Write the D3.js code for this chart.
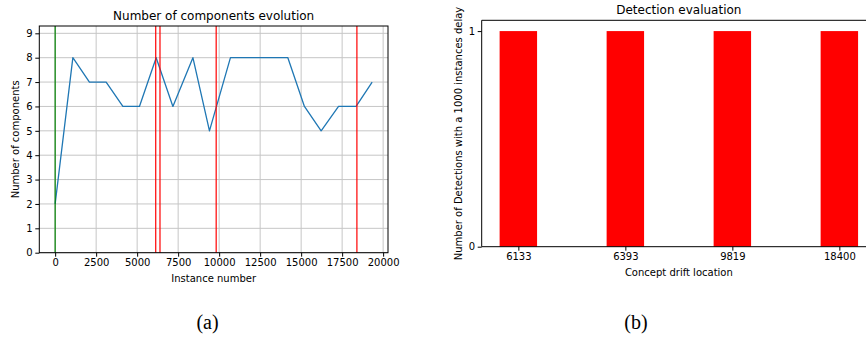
<!DOCTYPE html>
<html>
<head>
<meta charset="utf-8">
<script src="https://cdn.jsdelivr.net/npm/d3@7"></script>
<style>
  body { margin: 0; background: #fff; }
  svg { display: block; }
  text { font-family: "DejaVu Sans", sans-serif; fill: #000; }
  text.caption { font-family: "Liberation Serif", "DejaVu Serif", serif; }
</style>
</head>
<body>
<svg id="fig" width="866" height="337"></svg>
<script>
// Panel (a): number of mixture components over the stream
const instances  = [0, 1080, 2090, 3110, 4130, 5140, 6160, 7180, 8400, 9410, 10690, 11860, 13020, 14190, 15200, 16220, 17280, 18350, 19330];
const components = [2, 8, 7, 7, 6, 6, 8, 6, 8, 5, 8, 8, 8, 8, 6, 5, 6, 6, 7];
const startMarks = [0];
const driftLocations = [6133, 6393, 9819, 18400];
const xTicksA = [0, 2500, 5000, 7500, 10000, 12500, 15000, 17500, 20000];
const yTicksA = [0, 1, 2, 3, 4, 5, 6, 7, 8, 9];

// Panel (b): detections within a 1000-instance delay
const driftLabels = ["6133", "6393", "9819", "18400"];
const detections = [1, 1, 1, 1];
const yTicksB = [0, 1];

const svg = d3.select("#fig");

// ---------- Panel (a) ----------
{
  const L = 39.3, R = 388, T = 26, B = 252.7;
  const xMin = d3.min(instances), xMax = d3.max(instances);
  const pad = (xMax - xMin) * 0.05;
  const x = d3.scaleLinear().domain([xMin - pad, xMax + pad]).range([L, R]);
  const y = d3.scaleLinear().domain([0, 9.3]).range([B, T]);
  const g = svg.append("g");

  // grid
  g.append("g").selectAll("line").data(xTicksA).join("line")
    .attr("x1", d => x(d)).attr("x2", d => x(d)).attr("y1", T).attr("y2", B)
    .attr("stroke", "#c6c6c6").attr("stroke-width", 1);
  g.append("g").selectAll("line").data(yTicksA).join("line")
    .attr("x1", L).attr("x2", R).attr("y1", d => y(d)).attr("y2", d => y(d))
    .attr("stroke", "#c6c6c6").attr("stroke-width", 1);

  // component count line
  g.append("path").datum(instances.map((v, i) => [v, components[i]]))
    .attr("fill", "none").attr("stroke", "#1f77b4").attr("stroke-width", 1.3)
    .attr("stroke-linejoin", "round")
    .attr("d", d3.line().x(d => x(d[0])).y(d => y(d[1])));

  // start marker and drift markers
  g.append("g").selectAll("line").data(startMarks).join("line")
    .attr("x1", d => x(d)).attr("x2", d => x(d)).attr("y1", T).attr("y2", B)
    .attr("stroke", "#008000").attr("stroke-width", 1.2);
  g.append("g").selectAll("line").data(driftLocations).join("line")
    .attr("x1", d => x(d)).attr("x2", d => x(d)).attr("y1", T).attr("y2", B)
    .attr("stroke", "#ff0000").attr("stroke-width", 1.2);

  // axes
  const ax = g.append("g").attr("transform", `translate(0,${B})`)
    .call(d3.axisBottom(x).tickValues(xTicksA).tickFormat(d3.format("d")).tickSize(4).tickSizeOuter(0).tickPadding(2.5));
  const ay = g.append("g").attr("transform", `translate(${L},0)`)
    .call(d3.axisLeft(y).tickValues(yTicksA).tickFormat(d3.format("d")).tickSize(4).tickSizeOuter(0).tickPadding(2.7));
  [ax, ay].forEach(a => {
    a.select(".domain").remove();
    a.selectAll("text").attr("font-size", 10).attr("font-family", "DejaVu Sans");
    a.selectAll("line").attr("stroke", "#000").attr("stroke-width", 1);
  });

  // frame
  g.append("rect").attr("x", L).attr("y", T).attr("width", R - L).attr("height", B - T)
    .attr("fill", "none").attr("stroke", "#000").attr("stroke-width", 1);

  g.append("text").attr("x", (L + R) / 2).attr("y", 20).attr("text-anchor", "middle")
    .attr("font-size", 12).text("Number of components evolution");
  g.append("text").attr("x", (L + R) / 2).attr("y", 282).attr("text-anchor", "middle")
    .attr("font-size", 10).text("Instance number");
  g.append("text").attr("transform", `translate(18.5,${(T + B) / 2}) rotate(-90)`)
    .attr("text-anchor", "middle").attr("font-size", 10).text("Number of components");
}

// ---------- Panel (b) ----------
{
  const L = 481.7, R = 876, T = 20.3, B = 246.7;
  const barW = 0.35;
  const n = driftLabels.length;
  const lo = -barW / 2, hi = n - 1 + barW / 2;
  const pad = (hi - lo) * 0.05;
  const x = d3.scaleLinear().domain([lo - pad, hi + pad]).range([L, R]);
  const y = d3.scaleLinear().domain([0, 1.05]).range([B, T]);
  const g = svg.append("g");

  g.append("g").selectAll("rect").data(detections).join("rect")
    .attr("x", (d, i) => x(i - barW / 2)).attr("width", (d, i) => x(i + barW / 2) - x(i - barW / 2))
    .attr("y", d => y(d)).attr("height", d => y(0) - y(d))
    .attr("fill", "#ff0000");

  const ax = g.append("g").attr("transform", `translate(0,${B})`)
    .call(d3.axisBottom(x).tickValues(d3.range(n)).tickFormat(i => driftLabels[i]).tickSize(4).tickSizeOuter(0).tickPadding(2.5));
  const ay = g.append("g").attr("transform", `translate(${L},0)`)
    .call(d3.axisLeft(y).tickValues(yTicksB).tickFormat(d3.format("d")).tickSize(4).tickSizeOuter(0).tickPadding(2.7));
  [ax, ay].forEach(a => {
    a.select(".domain").remove();
    a.selectAll("text").attr("font-size", 10).attr("font-family", "DejaVu Sans");
    a.selectAll("line").attr("stroke", "#000").attr("stroke-width", 1);
  });

  // left, bottom and top spines
  g.append("path").attr("fill", "none").attr("stroke", "#000").attr("stroke-width", 1)
    .attr("d", `M${R},${T}H${L}V${B}H${R}`);

  g.append("text").attr("x", (L + R) / 2).attr("y", 14).attr("text-anchor", "middle")
    .attr("font-size", 12).text("Detection evaluation");
  g.append("text").attr("x", (L + R) / 2).attr("y", 276).attr("text-anchor", "middle")
    .attr("font-size", 10).text("Concept drift location");
  g.append("text").attr("transform", `translate(461.5,${(T + B) / 2}) rotate(-90)`)
    .attr("text-anchor", "middle").attr("font-size", 10).text("Number of Detections with a 1000 instances delay");
}

// sub-figure captions
svg.append("text").attr("class", "caption").attr("x", 207.5).attr("y", 329).attr("text-anchor", "middle")
  .attr("font-size", 20).text("(a)");
svg.append("text").attr("class", "caption").attr("x", 636).attr("y", 329).attr("text-anchor", "middle")
  .attr("font-size", 20).text("(b)");
</script>
</body>
</html>
